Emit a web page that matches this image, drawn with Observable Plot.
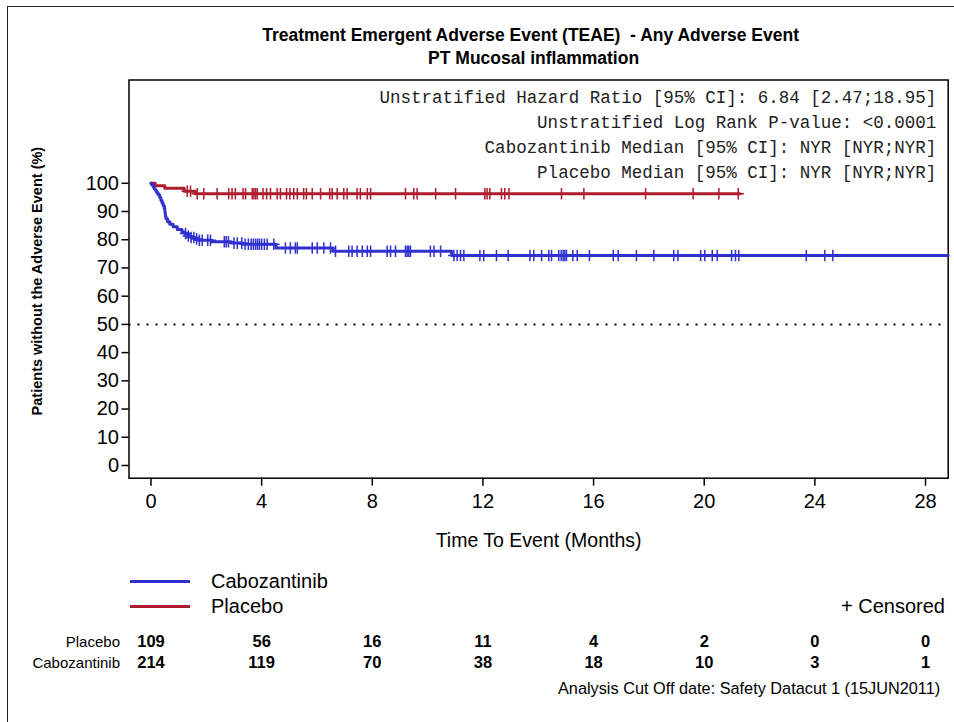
<!DOCTYPE html>
<html><head><meta charset="utf-8">
<script src="https://cdn.jsdelivr.net/npm/d3@7"></script>
<script src="https://cdn.jsdelivr.net/npm/@observablehq/plot@0.6"></script>
<style>
body{margin:0;overflow:hidden;background:#fff;font-family:"Liberation Sans",Arial,sans-serif;}
#wrap{position:relative;width:954px;height:722px;overflow:hidden;background:#fff}
#border{position:absolute;left:7px;top:6px;width:1000px;height:800px;border:1.5px solid #222;box-sizing:border-box;pointer-events:none}
#chart{position:absolute;left:0;top:0}
.sw{position:absolute;height:3px}
.lt{position:absolute;font-size:20px;line-height:1;color:#000}
</style></head>
<body><div id="wrap"><div id="border"></div><div id="chart"></div>
<div class="sw" style="left:130px;top:580px;width:60px;background:#3131D0"></div>
<div class="lt" style="left:211px;top:571px">Cabozantinib</div>
<div class="sw" style="left:130px;top:605px;width:60px;background:#AE1C2E"></div>
<div class="lt" style="left:211px;top:596px">Placebo</div>
<div class="lt" style="right:9px;top:596px">+ Censored</div>
</div>
<script>
// Kaplan-Meier steps
const cabozantinibTime = [0, 0.03, 0.06, 0.09, 0.12, 0.15, 0.18, 0.21, 0.24, 0.28, 0.32, 0.36, 0.40, 0.44, 0.48, 0.50, 0.51, 0.52, 0.54, 0.60, 0.68, 0.80, 0.95, 1.12, 1.22, 1.35, 1.45, 1.60, 1.70, 2.20, 2.90, 3.30, 4.52, 6.58, 10.87, 28.82];
const cabozantinibSurv = [100, 99.5, 99.1, 98.6, 98.1, 97.7, 97.2, 96.7, 96.3, 95.8, 94.9, 93.9, 93.0, 92.1, 91.1, 90.2, 89.3, 88.3, 87.4, 86.4, 85.5, 84.6, 83.6, 82.7, 82.2, 81.3, 80.8, 80.3, 79.8, 79.3, 78.8, 78.4, 77.1, 75.9, 74.4, 74.4];
const placeboTime = [0, 0.15, 0.50, 1.20, 1.60, 21.30];
const placeboSurv = [100, 99.1, 98.2, 97.2, 96.3, 96.3];
const cabozantinibCensor = [1.25, 1.35, 1.45, 1.55, 1.65, 1.75, 1.85, 2.05, 2.15, 2.65, 2.72, 2.80, 3.00, 3.12, 3.28, 3.40, 3.52, 3.62, 3.70, 3.78, 3.85, 3.92, 4.00, 4.10, 4.20, 4.44, 4.86, 5.04, 5.22, 5.29, 5.83, 6.01, 6.25, 6.49, 6.67, 7.15, 7.27, 7.45, 7.64, 7.82, 7.94, 8.54, 8.66, 8.84, 9.20, 9.26, 9.32, 9.38, 10.10, 10.23, 10.47, 10.95, 11.07, 11.19, 11.31, 11.89, 12.03, 12.49, 12.91, 13.70, 13.84, 14.12, 14.38, 14.48, 14.74, 14.83, 14.90, 14.96, 15.02, 15.25, 15.41, 15.85, 16.71, 16.89, 17.55, 18.18, 18.90, 19.05, 19.87, 20.02, 20.29, 20.47, 20.99, 21.13, 21.25, 23.69, 24.36, 24.65];
const placeboCensor = [1.31, 1.43, 1.67, 1.91, 2.39, 2.81, 2.93, 3.05, 3.33, 3.42, 3.66, 3.72, 3.78, 3.84, 4.05, 4.18, 4.32, 4.56, 4.68, 4.90, 5.02, 5.16, 5.29, 5.52, 5.62, 5.83, 6.13, 6.46, 6.55, 6.73, 6.97, 7.09, 7.45, 7.57, 7.82, 7.94, 9.20, 9.50, 9.62, 10.29, 11.01, 12.07, 12.15, 12.25, 12.67, 12.79, 12.94, 14.84, 15.65, 17.88, 19.60, 20.53, 21.23];
const riskTimes = [0, 4, 8, 12, 16, 20, 24, 28];
const placeboAtRisk = [109, 56, 16, 11, 4, 2, 0, 0];
const cabozantinibAtRisk = [214, 119, 70, 38, 18, 10, 3, 1];
const yTicks = [0, 10, 20, 30, 40, 50, 60, 70, 80, 90, 100];
const statLines = [
  "Unstratified Hazard Ratio [95% CI]: 6.84 [2.47;18.95]",
  "Unstratified Log Rank P-value: <0.0001",
  "Cabozantinib Median [95% CI]: NYR [NYR;NYR]",
  "Placebo Median [95% CI]: NYR [NYR;NYR]"
];

const BLUE = "#3131D0", RED = "#AE1C2E";
function survAt(times, surv, t) { let s = surv[0]; for (let i = 0; i < times.length; i++) if (times[i] <= t) s = surv[i]; return s; }
const cabLine = cabozantinibTime.map((t, i) => ({t, s: cabozantinibSurv[i]}));
const plaLine = placeboTime.map((t, i) => ({t, s: placeboSurv[i]}));
const cabCens = cabozantinibCensor.map(t => ({t, s: survAt(cabozantinibTime, cabozantinibSurv, t)}));
const plaCens = placeboCensor.map(t => ({t, s: survAt(placeboTime, placeboSurv, t)}));
const risk = riskTimes.map((t, i) => ({t, p: placeboAtRisk[i], c: cabozantinibAtRisk[i]}));

const fb = 477.7; // frame bottom (px)
const mono = "'Liberation Mono', 'Courier New', monospace";
const statMarks = statLines.map((s, i) => Plot.text([s], {frameAnchor: "top-right", dx: -12, dy: 17.5 + 25 * i, lineAnchor: "middle", textAnchor: "end", fontFamily: mono, fontSize: 17.5, fill: "#222"}));
const plot = Plot.plot({
  width: 954, height: 722,
  marginLeft: 128.5, marginRight: 6.3, marginTop: 79.5, marginBottom: 722 - fb,
  style: {fontFamily: "'Liberation Sans', Arial, sans-serif", color: "#000", background: "transparent", overflow: "visible"},
  x: {domain: [-0.795, 28.82]},
  y: {domain: [-4.5, 136.6]},
  marks: [
    Plot.frame({stroke: "#000", strokeWidth: 1.5}),
    Plot.axisX(riskTimes, {tickSize: 8, tickPadding: 8, fontSize: 20, label: null, stroke: "#000", strokeWidth: 1.5}),
    Plot.axisY(yTicks, {tickSize: 7, tickPadding: 3, fontSize: 20, label: null, stroke: "#000", strokeWidth: 1.5}),
    Plot.ruleY([50], {stroke: "#000", strokeWidth: 2, strokeDasharray: "2,7"}),
    Plot.line(plaLine, {x: "t", y: "s", curve: "step-after", stroke: RED, strokeWidth: 3}),
    Plot.line(cabLine, {x: "t", y: "s", curve: "step-after", stroke: BLUE, strokeWidth: 3}),
    Plot.dot(plaCens, {x: "t", y: "s", symbol: "plus", r: 3.8, stroke: RED, strokeWidth: 1.5}),
    Plot.dot(cabCens, {x: "t", y: "s", symbol: "plus", r: 3.8, stroke: BLUE, strokeWidth: 1.5}),
    ...statMarks,
    Plot.text(["Time To Event (Months)"], {frameAnchor: "bottom", dy: 69, fontSize: 19.5}),
    Plot.text(["Patients without the Adverse Event (%)"], {frameAnchor: "left", dx: -92, dy: 2, rotate: -90, textAnchor: "middle", fontSize: 14.5, fontWeight: "bold"}),
    Plot.text(["Treatment Emergent Adverse Event (TEAE)  - Any Adverse Event"], {frameAnchor: "top", dx: -8, dy: -51, fontSize: 17.5, fontWeight: "bold"}),
    Plot.text(["PT Mucosal inflammation"], {frameAnchor: "top", dx: -5, dy: -28, fontSize: 17.5, fontWeight: "bold"}),
    Plot.text(["Placebo"], {frameAnchor: "bottom-left", dx: -9, dy: 646 - fb, textAnchor: "end", fontSize: 15}),
    Plot.text(["Cabozantinib"], {frameAnchor: "bottom-left", dx: -9, dy: 667 - fb, textAnchor: "end", fontSize: 15}),
    Plot.text(risk, {x: "t", text: "p", frameAnchor: "bottom", dy: 646 - fb, fontSize: 16.5, fontWeight: "bold"}),
    Plot.text(risk, {x: "t", text: "c", frameAnchor: "bottom", dy: 667 - fb, fontSize: 16.5, fontWeight: "bold"}),
    Plot.text(["Analysis Cut Off date: Safety Datacut 1 (15JUN2011)"], {frameAnchor: "bottom-right", dx: -8, dy: 693 - fb, textAnchor: "end", fontSize: 16.3})
  ]
});
document.getElementById("chart").appendChild(plot);
</script></body></html>
